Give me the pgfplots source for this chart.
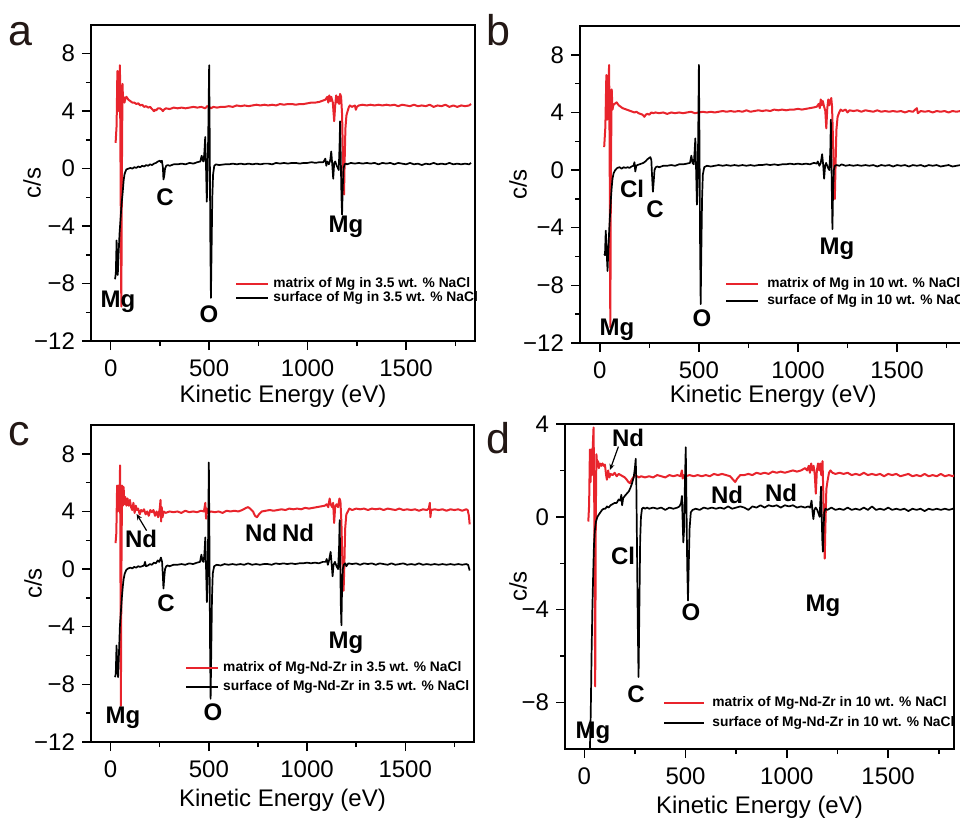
\documentclass[border=0pt]{standalone}
\usepackage{pgfplots}
\pgfplotsset{compat=1.18}
\usetikzlibrary{arrows.meta}
\usepackage{fontspec}
\setmainfont{Liberation Sans}
\definecolor{myred}{RGB}{232,36,44}
\definecolor{letter}{RGB}{35,24,21}

\pgfplotsset{
  aes/.style={
    scale only axis, anchor=south west,
    axis line style={line width=0.75pt},
    tick pos=left, tick align=outside,
    major tick length=4.5pt, minor tick length=2.5pt,
    tick style={line width=0.75pt, black},
    xtick={0,500,1000,1500}, xticklabels={0,500,1000,1500},
    minor xtick={250,750,1250,1750},
    ticklabel style={font=\fontsize{12}{14}\selectfont},
    xticklabel style={yshift=-1.5pt},
    xlabel={Kinetic Energy (eV)}, ylabel={c/s},
    label style={font=\fontsize{12}{14}\selectfont},
    legend cell align=left,
    legend style={draw=none, fill=none, font=\fontsize{6.9}{8}\selectfont\bfseries, inner sep=0pt, anchor=west,
      nodes={inner sep=0pt, text height=5pt, text depth=1.5pt},
      /tikz/every odd column/.append style={column sep=2pt}},
    legend image code/.code={\draw[##1] (0pt,0pt) -- (16pt,0pt);},
  },
  rl/.style={myred, line width=1pt, mark=none, line join=round},
  kl/.style={black, line width=0.85pt, mark=none, line join=round},
}

\begin{document}
\begin{tikzpicture}
\path[use as bounding box] (0,0) rectangle (480pt,-410pt);

% ---------------- panel a
\begin{axis}[aes, at={(45.5pt,-170.5pt)}, width=192pt, height=158pt,
  xmin=-100, xmax=1850, ymin=-12, ymax=10,
  ytick={-12,-8,-4,0,4,8}, yticklabels={−12,−8,−4,0,4,8}, minor ytick={-10,-6,-2,2,6},
  xlabel style={at={(axis description cs:0.5,-0.196)}, anchor=base},
  ylabel style={at={(axis description cs:-0.1536,0.5)}, anchor=center},
  legend style={at={(axis description cs:0.375,0.158)}, row sep=0.5pt}]
\addplot[rl] coordinates {(25,1.8) (30,3.0) (34,6.8) (38,4.0) (42,5.5) (47,7.2) (50,0) (54,-9.6) (57,0) (60,5.9) (63,4.6) (66,5.0) (70,4.6) (75,4.9) (80,5.0) (90,4.8) (100,4.7) (110,4.6) (120,4.6) (130,4.5) (140,4.55) (150,4.4) (160,4.45) (170,4.3) (180,4.35) (190,4.25) (200,4.3) (210,4.15) (220,4.0) (225,4.1) (230,4.05) (240,4.2) (250,4.2) (260,4.1) (265,4.0) (270,4.1) (280,4.2) (300,4.15) (320,4.25) (340,4.2) (360,4.25) (380,4.2) (400,4.25) (420,4.3) (440,4.25) (460,4.3) (480,4.2) (490,4.35) (500,4.3) (510,4.2) (520,4.3) (540,4.25) (560,4.3) (580,4.3) (600,4.35) (620,4.3) (640,4.4) (660,4.35) (680,4.4) (700,4.35) (720,4.4) (740,4.45) (760,4.4) (780,4.45) (800,4.4) (820,4.45) (840,4.4) (860,4.5) (880,4.45) (900,4.5) (920,4.5) (940,4.45) (960,4.5) (980,4.5) (1000,4.55) (1020,4.6) (1040,4.6) (1060,4.65) (1080,4.75) (1090,4.8) (1100,5.0) (1105,4.6) (1110,5.1) (1115,4.7) (1120,5.0) (1128,4.6) (1135,3.3) (1140,4.4) (1145,5.1) (1150,4.6) (1155,5.0) (1160,4.5) (1165,5.2) (1170,5.0) (1175,3.8) (1180,0.5) (1185,-1.8) (1188,0.5) (1192,2.8) (1197,3.7) (1203,4.0) (1210,4.3) (1215,4.4) (1225,4.3) (1240,4.4) (1245,4.1) (1250,4.3) (1260,4.4) (1280,4.45) (1300,4.4) (1320,4.45) (1340,4.4) (1360,4.45) (1380,4.4) (1400,4.45) (1420,4.4) (1440,4.45) (1460,4.35) (1480,4.45) (1500,4.4) (1520,4.35) (1540,4.45) (1560,4.35) (1580,4.4) (1600,4.35) (1620,4.45) (1640,4.3) (1660,4.4) (1680,4.35) (1700,4.45) (1720,4.3) (1740,4.4) (1760,4.3) (1780,4.4) (1800,4.35) (1820,4.4) (1830,4.5)};
\addlegendentry{matrix of Mg in 3.5 wt. \% NaCl}
\addplot[kl] coordinates {(22,-7.7) (26,-7.3) (30,-5.0) (33,-6.5) (36,-7.4) (40,-6.0) (45,-4.5) (50,-3.5) (55,-2.5) (60,-1.8) (63,-1.3) (66,-0.8) (70,-0.4) (75,-0.2) (80,-0.05) (90,0.0) (100,0.05) (110,0.0) (120,0.1) (130,0.05) (140,0.15) (150,0.1) (160,0.2) (170,0.15) (180,0.25) (190,0.2) (200,0.3) (210,0.25) (220,0.35) (230,0.4) (240,0.5) (250,0.55) (255,0.45) (260,0.55) (265,0.1) (268,-0.75) (272,-0.5) (276,0.0) (282,0.2) (290,0.25) (300,0.2) (320,0.3) (340,0.3) (360,0.35) (380,0.3) (400,0.4) (420,0.35) (440,0.45) (455,0.5) (462,0.9) (468,0.55) (472,0.5) (476,1.2) (480,2.2) (484,0.2) (488,-2.3) (492,-0.5) (496,3.0) (500,7.2) (503,2.0) (506,-5.0) (509,-9.0) (512,-6.0) (516,-2.0) (520,-0.4) (526,0.2) (535,0.3) (550,0.25) (580,0.3) (600,0.3) (620,0.35) (640,0.3) (660,0.35) (680,0.3) (700,0.35) (720,0.3) (740,0.35) (760,0.3) (780,0.35) (800,0.35) (820,0.3) (840,0.4) (860,0.35) (880,0.4) (900,0.35) (920,0.4) (940,0.4) (960,0.35) (980,0.4) (1000,0.4) (1020,0.45) (1040,0.4) (1060,0.45) (1080,0.45) (1090,0.7) (1095,0.2) (1100,0.5) (1108,0.3) (1115,0.6) (1120,1.2) (1125,0.3) (1130,-0.7) (1135,0.4) (1140,0.5) (1148,0.2) (1155,0.0) (1158,-0.1) (1162,1.5) (1165,3.3) (1168,1.0) (1172,-2.0) (1175,-3.2) (1178,-1.5) (1182,0.0) (1188,0.3) (1195,0.35) (1200,0.3) (1220,0.4) (1240,0.35) (1260,0.4) (1280,0.35) (1300,0.4) (1320,0.35) (1340,0.4) (1360,0.3) (1380,0.4) (1400,0.35) (1420,0.4) (1440,0.3) (1460,0.4) (1480,0.35) (1500,0.3) (1520,0.4) (1540,0.3) (1560,0.35) (1580,0.25) (1600,0.35) (1620,0.3) (1640,0.4) (1660,0.3) (1680,0.35) (1700,0.3) (1720,0.4) (1740,0.3) (1760,0.35) (1780,0.3) (1800,0.35) (1820,0.3) (1830,0.4)};
\addlegendentry{surface of Mg in 3.5 wt. \% NaCl}
\end{axis}

% ---------------- panel b
\begin{axis}[aes, at={(290pt,-171.5pt)}, width=193.2pt, height=158.5pt,
  xmin=-100, xmax=1850, ymin=-12, ymax=10,
  ytick={-12,-8,-4,0,4,8}, yticklabels={−12,−8,−4,0,4,8}, minor ytick={-10,-6,-2,2,6},
  xlabel style={at={(axis description cs:0.5,-0.189)}, anchor=base},
  ylabel style={at={(axis description cs:-0.1605,0.5)}, anchor=center},
  legend style={at={(axis description cs:0.375,0.159)}, row sep=2pt, /tikz/every odd column/.append style={column sep=4pt}}]
\addplot[rl] coordinates {(22,1.6) (28,3.0) (33,6.6) (37,3.5) (42,5.5) (47,7.3) (50,0) (53,-10.9) (56,0) (60,5.6) (64,4.2) (68,4.5) (75,4.6) (85,4.7) (95,4.5) (105,4.4) (115,4.3) (125,4.25) (135,4.2) (145,4.15) (155,4.1) (165,4.05) (175,4.0) (185,4.05) (195,3.95) (205,3.9) (215,3.85) (225,3.7) (232,3.85) (240,3.9) (250,3.85) (260,4.0) (270,3.95) (280,4.0) (300,3.95) (320,4.0) (340,3.9) (360,4.0) (380,3.95) (400,4.0) (420,3.95) (440,4.0) (460,4.05) (480,3.95) (500,4.0) (520,4.05) (540,4.0) (560,4.05) (580,4.0) (600,4.05) (620,4.1) (640,4.05) (660,4.1) (680,4.05) (700,4.1) (720,4.05) (740,4.15) (760,4.05) (780,4.1) (800,4.15) (820,4.1) (840,4.15) (860,4.1) (880,4.2) (900,4.15) (920,4.2) (940,4.15) (960,4.2) (980,4.2) (1000,4.25) (1020,4.2) (1040,4.25) (1060,4.3) (1080,4.35) (1095,4.4) (1105,4.6) (1110,4.3) (1115,4.9) (1120,4.5) (1125,4.8) (1132,4.4) (1138,4.1) (1143,2.9) (1148,4.3) (1153,4.9) (1158,4.5) (1163,4.8) (1168,5.0) (1172,4.4) (1176,2.5) (1180,0.5) (1186,-2.0) (1190,0.5) (1194,2.8) (1200,3.7) (1208,4.0) (1215,4.2) (1225,4.1) (1240,4.2) (1250,4.0) (1260,4.15) (1280,4.1) (1300,4.15) (1320,4.05) (1340,4.15) (1360,4.1) (1380,4.05) (1400,4.15) (1420,4.05) (1440,4.1) (1460,4.05) (1480,4.1) (1500,4.05) (1520,4.1) (1540,4.0) (1560,4.1) (1580,4.05) (1600,4.3) (1605,3.95) (1620,4.1) (1640,4.05) (1660,4.1) (1680,4.0) (1700,4.1) (1720,4.05) (1740,4.1) (1760,4.0) (1780,4.1) (1800,4.05) (1820,4.1) (1840,4.05) (1850,4.1)};
\addlegendentry{matrix of Mg in 10 wt. \% NaCl}
\addplot[kl] coordinates {(22,-5.8) (26,-5.9) (30,-4.2) (34,-5.5) (39,-7.0) (43,-5.5) (48,-4.0) (52,-3.0) (56,-2.0) (60,-1.2) (64,-0.6) (70,-0.2) (78,0.0) (88,0.15) (100,0.2) (110,0.1) (120,0.2) (130,0.15) (140,0.2) (150,0.15) (160,0.25) (170,0.3) (175,0.55) (179,-0.1) (184,0.3) (190,0.35) (200,0.4) (210,0.45) (220,0.5) (230,0.6) (240,0.75) (250,0.85) (255,0.9) (260,0.7) (264,-0.5) (268,-1.5) (272,-0.8) (276,0.0) (282,0.2) (290,0.25) (300,0.2) (320,0.3) (340,0.3) (360,0.35) (380,0.3) (400,0.4) (420,0.4) (440,0.45) (455,0.5) (462,1.0) (468,0.5) (474,0.4) (478,1.2) (482,2.2) (486,0.0) (490,-2.4) (494,-0.5) (497,3.0) (500,7.3) (503,2.0) (506,-5.0) (509,-9.3) (512,-6.0) (516,-2.0) (520,-0.3) (527,0.2) (540,0.3) (560,0.25) (580,0.3) (600,0.35) (620,0.3) (640,0.35) (660,0.3) (680,0.35) (700,0.3) (720,0.35) (740,0.3) (760,0.35) (780,0.3) (800,0.35) (820,0.35) (840,0.4) (860,0.35) (880,0.4) (900,0.35) (920,0.4) (940,0.4) (960,0.45) (980,0.4) (1000,0.45) (1020,0.4) (1040,0.45) (1060,0.4) (1080,0.5) (1095,0.45) (1100,0.6) (1108,0.3) (1115,0.5) (1122,1.1) (1127,0.4) (1132,-0.6) (1137,0.3) (1142,0.5) (1150,0.2) (1158,0.0) (1163,1.2) (1166,3.5) (1169,0.5) (1172,-2.5) (1174,-4.1) (1177,-1.5) (1181,0.0) (1186,0.3) (1195,0.35) (1210,0.3) (1220,0.4) (1240,0.3) (1260,0.35) (1280,0.3) (1300,0.35) (1320,0.3) (1340,0.35) (1360,0.3) (1380,0.35) (1400,0.25) (1420,0.35) (1440,0.3) (1460,0.35) (1480,0.25) (1500,0.35) (1520,0.3) (1540,0.35) (1560,0.25) (1580,0.35) (1600,0.3) (1620,0.35) (1640,0.25) (1660,0.35) (1680,0.3) (1700,0.35) (1720,0.25) (1740,0.3) (1760,0.35) (1780,0.25) (1800,0.3) (1820,0.35) (1840,0.3) (1850,0.3)};
\addlegendentry{surface of Mg in 10 wt. \% NaCl}
\end{axis}

% ---------------- panel c
\begin{axis}[aes, at={(45.5pt,-371pt)}, width=191.5pt, height=158.5pt,
  xmin=-100, xmax=1850, ymin=-12, ymax=10,
  ytick={-12,-8,-4,0,4,8}, yticklabels={−12,−8,−4,0,4,8}, minor ytick={-10,-6,-2,2,6},
  xlabel style={at={(axis description cs:0.5,-0.202)}, anchor=base},
  ylabel style={at={(axis description cs:-0.1514,0.5)}, anchor=center},
  legend style={at={(axis description cs:0.245,0.203)}, row sep=3pt}]
\addplot[rl] coordinates {(25,1.8) (29,2.5) (33,5.8) (37,4.0) (41,5.8) (45,4.5) (48,7.2) (50,0) (52,-9.5) (55,0) (58,5.8) (62,4.4) (66,5.7) (70,4.5) (75,5.0) (80,4.4) (86,4.9) (92,4.4) (98,4.8) (104,4.3) (110,4.1) (116,4.6) (122,3.9) (128,4.4) (134,4.1) (140,4.2) (148,3.8) (155,4.1) (162,4.0) (170,4.15) (178,3.8) (186,4.0) (194,3.7) (202,4.1) (210,3.95) (218,4.1) (226,3.7) (234,4.0) (242,3.6) (250,4.2) (254,4.8) (257,3.3) (260,4.3) (264,3.6) (270,4.0) (280,3.9) (300,4.0) (320,3.95) (340,4.0) (360,3.9) (380,4.05) (400,3.95) (420,4.0) (440,3.95) (460,4.05) (475,4.0) (482,4.6) (486,3.5) (490,4.2) (495,3.9) (510,4.0) (530,3.95) (550,4.0) (570,3.9) (590,4.05) (610,4.0) (630,4.05) (650,4.0) (670,4.1) (690,4.25) (700,4.3) (710,4.2) (725,4.0) (735,3.7) (745,3.6) (755,3.8) (770,4.0) (790,4.05) (810,4.1) (830,4.05) (850,4.1) (870,4.15) (890,4.1) (910,4.2) (930,4.15) (950,4.2) (970,4.15) (990,4.25) (1010,4.2) (1030,4.25) (1050,4.3) (1070,4.35) (1090,4.4) (1100,4.5) (1108,4.3) (1115,4.9) (1120,4.5) (1128,4.3) (1133,4.6) (1138,3.2) (1143,4.3) (1150,4.5) (1158,4.3) (1165,4.9) (1170,4.7) (1175,3.2) (1180,0.5) (1186,-1.5) (1190,0.3) (1194,2.8) (1200,3.8) (1208,4.0) (1215,4.2) (1230,4.1) (1250,4.2) (1270,4.15) (1290,4.2) (1310,4.1) (1330,4.2) (1350,4.15) (1370,4.2) (1390,4.1) (1410,4.2) (1430,4.15) (1450,4.1) (1470,4.2) (1490,4.1) (1510,4.15) (1530,4.1) (1550,4.15) (1570,4.05) (1590,4.15) (1610,4.1) (1620,4.2) (1625,4.6) (1628,3.6) (1632,4.1) (1650,4.15) (1670,4.1) (1690,4.15) (1710,4.05) (1730,4.15) (1750,4.1) (1770,4.15) (1790,4.05) (1810,4.15) (1818,4.1) (1824,3.7) (1828,3.1)};
\addlegendentry{matrix of Mg-Nd-Zr in 3.5 wt. \% NaCl}
\addplot[kl] coordinates {(22,-7.5) (26,-7.3) (30,-5.3) (34,-6.8) (38,-7.5) (42,-6.0) (47,-4.0) (52,-3.0) (57,-2.0) (62,-1.2) (66,-0.7) (72,-0.3) (80,-0.05) (90,0.05) (100,0.1) (110,0.05) (120,0.15) (130,0.1) (140,0.2) (150,0.15) (160,0.2) (170,0.25) (175,0.5) (180,0.2) (190,0.25) (200,0.35) (210,0.3) (220,0.45) (230,0.4) (240,0.6) (248,0.5) (256,0.8) (262,0.5) (266,-0.5) (269,-1.35) (273,-0.6) (277,0.0) (283,0.2) (290,0.25) (300,0.2) (320,0.3) (340,0.3) (360,0.35) (380,0.3) (400,0.4) (420,0.35) (440,0.45) (455,0.5) (462,1.0) (468,0.55) (474,0.5) (478,1.2) (482,2.2) (486,0.0) (490,-2.3) (494,-0.5) (497,3.0) (500,7.4) (503,2.0) (506,-5.0) (509,-9.0) (512,-6.0) (516,-2.0) (520,-0.3) (527,0.2) (540,0.3) (560,0.25) (580,0.35) (600,0.3) (620,0.35) (640,0.3) (660,0.35) (680,0.3) (700,0.4) (720,0.3) (740,0.35) (760,0.3) (780,0.35) (800,0.35) (820,0.3) (840,0.4) (860,0.35) (880,0.4) (900,0.35) (920,0.4) (940,0.35) (960,0.4) (980,0.4) (1000,0.45) (1020,0.4) (1040,0.45) (1060,0.4) (1080,0.5) (1095,0.5) (1100,0.7) (1106,0.3) (1112,0.6) (1120,1.2) (1125,0.4) (1130,-0.5) (1135,0.3) (1142,0.5) (1150,0.2) (1158,0.0) (1163,1.5) (1166,3.4) (1169,0.5) (1172,-2.5) (1175,-3.9) (1178,-1.5) (1182,0.0) (1187,0.3) (1195,0.4) (1200,0.2) (1210,0.4) (1230,0.35) (1250,0.4) (1270,0.3) (1290,0.4) (1310,0.35) (1330,0.4) (1350,0.3) (1370,0.4) (1390,0.35) (1410,0.3) (1430,0.4) (1450,0.3) (1470,0.35) (1490,0.4) (1510,0.3) (1530,0.35) (1550,0.3) (1570,0.4) (1590,0.3) (1610,0.35) (1630,0.3) (1650,0.35) (1670,0.3) (1690,0.35) (1710,0.3) (1730,0.35) (1750,0.3) (1770,0.35) (1790,0.3) (1810,0.35) (1820,0.3) (1828,-0.1)};
\addlegendentry{surface of Mg-Nd-Zr in 3.5 wt. \% NaCl}
\end{axis}

% ---------------- panel d
\begin{axis}[aes, at={(282.5pt,-374.5pt)}, width=194.5pt, height=162.5pt,
  xmin=-95, xmax=1825, ymin=-10, ymax=4,
  ytick={-8,-4,0,4}, yticklabels={−8,−4,0,4}, minor ytick={-6,-2,2},
  xlabel style={at={(axis description cs:0.5,-0.197)}, anchor=base},
  ylabel style={at={(axis description cs:-0.1208,0.5)}, anchor=center},
  legend image code/.code={\draw[#1] (0pt,0pt) -- (20pt,0pt);},
  legend style={at={(axis description cs:0.252,0.111)}, row sep=3.8pt, /tikz/every odd column/.append style={column sep=3.5pt}}]
\addplot[rl] coordinates {(20,-0.2) (24,0.5) (28,2.9) (31,1.5) (34,2.9) (38,1.8) (42,3.0) (46,3.85) (50,0) (54,-7.3) (57,0) (60,2.7) (64,2.2) (68,2.4) (72,2.1) (78,2.3) (84,2.2) (90,2.3) (96,2.2) (102,2.25) (108,1.8) (112,1.6) (118,2.0) (124,1.7) (130,1.85) (140,1.8) (150,1.9) (160,1.75) (170,1.85) (180,1.8) (190,1.75) (200,1.7) (210,1.6) (218,1.5) (226,1.45) (234,1.6) (242,1.7) (250,1.8) (260,1.75) (270,1.7) (280,1.75) (300,1.7) (320,1.75) (340,1.7) (360,1.8) (380,1.75) (400,1.7) (420,1.8) (440,1.75) (460,1.8) (475,1.75) (482,2.0) (486,1.65) (492,1.8) (500,1.75) (520,1.8) (540,1.75) (560,1.8) (580,1.75) (600,1.8) (620,1.75) (640,1.85) (660,1.8) (680,1.85) (700,1.8) (720,1.75) (735,1.6) (745,1.5) (755,1.65) (770,1.8) (790,1.8) (810,1.85) (830,1.8) (850,1.9) (870,1.85) (890,1.9) (910,1.85) (930,1.95) (950,1.9) (970,1.95) (990,1.9) (1010,1.95) (1030,2.0) (1050,1.95) (1070,2.0) (1090,2.1) (1100,2.0) (1108,2.2) (1114,1.9) (1120,2.3) (1126,2.0) (1132,2.2) (1138,1.8) (1143,1.0) (1148,2.0) (1154,2.3) (1160,2.0) (1165,2.3) (1170,1.8) (1176,2.4) (1180,1.0) (1184,-1.0) (1187,-1.8) (1190,-0.5) (1195,1.2) (1200,1.5) (1208,1.9) (1215,2.0) (1225,1.9) (1240,1.85) (1260,1.9) (1280,1.85) (1300,1.9) (1320,1.8) (1340,1.85) (1360,1.8) (1380,1.9) (1400,1.8) (1420,1.85) (1440,1.8) (1460,1.85) (1480,1.75) (1500,1.85) (1520,1.8) (1540,1.85) (1560,1.75) (1580,1.8) (1600,1.85) (1620,1.75) (1640,1.8) (1660,1.75) (1680,1.85) (1700,1.75) (1720,1.8) (1740,1.75) (1760,1.85) (1780,1.75) (1800,1.8) (1820,1.75) (1828,1.8)};
\addlegendentry{matrix of Mg-Nd-Zr in 10 wt. \% NaCl}
\addplot[kl] coordinates {(28,-10.0) (32,-8.5) (36,-6.0) (40,-4.0) (44,-2.5) (48,-1.2) (52,-0.6) (58,-0.2) (65,0.0) (72,0.1) (80,0.2) (88,0.3) (96,0.35) (104,0.35) (112,0.45) (120,0.4) (130,0.5) (140,0.55) (150,0.6) (160,0.6) (170,0.75) (178,0.7) (183,0.95) (187,0.5) (192,0.8) (200,0.9) (210,1.0) (220,1.1) (228,1.25) (236,1.45) (244,1.7) (250,2.1) (254,2.5) (257,1.5) (260,-1.0) (264,-4.5) (268,-6.9) (272,-4.0) (276,-1.0) (280,0.0) (285,0.35) (292,0.4) (300,0.35) (310,0.4) (320,0.35) (340,0.4) (360,0.35) (380,0.4) (400,0.3) (420,0.4) (440,0.35) (460,0.4) (470,0.45) (478,0.6) (482,0.9) (485,0.0) (489,-1.1) (493,-0.5) (497,1.5) (501,3.0) (504,1.0) (508,-2.0) (512,-3.6) (516,-2.0) (520,-0.5) (526,0.2) (535,0.3) (550,0.35) (570,0.3) (590,0.4) (610,0.35) (630,0.4) (650,0.35) (670,0.4) (690,0.35) (710,0.45) (730,0.35) (750,0.4) (770,0.45) (790,0.4) (810,0.3) (830,0.45) (850,0.4) (870,0.5) (890,0.4) (910,0.5) (930,0.45) (950,0.5) (970,0.4) (990,0.5) (1010,0.45) (1030,0.5) (1050,0.4) (1070,0.45) (1090,0.4) (1105,0.45) (1115,0.4) (1122,0.7) (1127,0.2) (1131,-0.1) (1136,0.3) (1142,0.4) (1150,0.3) (1158,0.1) (1162,0.0) (1166,0.8) (1169,1.3) (1172,0.0) (1175,-1.0) (1178,-1.5) (1181,-0.5) (1185,0.2) (1190,0.35) (1200,0.3) (1220,0.4) (1240,0.3) (1260,0.35) (1280,0.3) (1300,0.4) (1320,0.3) (1340,0.35) (1360,0.3) (1380,0.4) (1400,0.3) (1420,0.45) (1440,0.3) (1460,0.35) (1480,0.3) (1500,0.4) (1520,0.3) (1540,0.35) (1560,0.3) (1580,0.35) (1600,0.25) (1620,0.35) (1640,0.3) (1660,0.35) (1680,0.25) (1700,0.35) (1720,0.3) (1740,0.35) (1760,0.3) (1780,0.35) (1800,0.3) (1820,0.35) (1828,0.4)};
\addlegendentry{surface of Mg-Nd-Zr in 10 wt. \% NaCl}
\end{axis}

% ---------------- annotations
\begin{scope}[every node/.style={font=\fontsize{12}{14}\selectfont\bfseries, inner sep=0pt}]
% a
\node at (59pt,-151pt) {Mg};
\node at (82.5pt,-98.5pt) {C};
\node at (104.5pt,-157pt) {O};
\node at (173pt,-113.5pt) {Mg};
% b
\node at (308.5pt,-165pt) {Mg};
\node at (316pt,-94.5pt) {Cl};
\node at (327.5pt,-104.5pt) {C};
\node at (351pt,-159pt) {O};
\node at (418.5pt,-124.5pt) {Mg};
% c
\node at (61.5pt,-359pt) {Mg};
\node at (70.5pt,-269.5pt) {Nd};
\node at (130.5pt,-266.5pt) {Nd};
\node at (149pt,-266.5pt) {Nd};
\node at (83pt,-301.5pt) {C};
\node at (106.5pt,-356pt) {O};
\node at (173pt,-321.5pt) {Mg};
% d
\node at (314pt,-219pt) {Nd};
\node at (363.5pt,-247.5pt) {Nd};
\node at (390.5pt,-246.5pt) {Nd};
\node at (311.5pt,-278pt) {Cl};
\node at (318pt,-347pt) {C};
\node at (345.5pt,-306pt) {O};
\node at (411.5pt,-303pt) {Mg};
\node at (296.5pt,-366.5pt) {Mg};
\end{scope}
\draw[-{Stealth[length=3pt,width=2.5pt]}, line width=0.6pt] (73.3pt,-265.3pt) -- (68.3pt,-257pt);
\draw[-{Stealth[length=3pt,width=2.5pt]}, line width=0.6pt] (309.2pt,-223.3pt) -- (305pt,-235pt);

% panel letters
\begin{scope}[every node/.style={anchor=base west, inner sep=0pt, font=\fontsize{21.5}{24}\selectfont, text=letter}]
\node at (4pt,-22.5pt) {a};
\node at (243pt,-22.5pt) {b};
\node at (4pt,-222.5pt) {c};
\node at (243pt,-226.5pt) {d};
\end{scope}
\end{tikzpicture}
\end{document}
